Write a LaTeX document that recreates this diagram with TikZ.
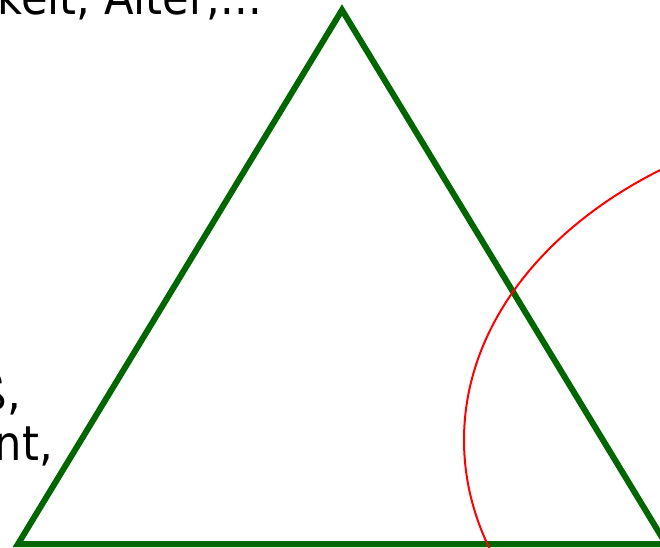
\documentclass[tikz,border=0pt]{standalone}
\usepackage{fontspec}
\setmainfont[FakeStretch=0.9]{DejaVu Sans}
\begin{document}
\begin{tikzpicture}[x=1pt,y=-1pt,
  tri/.style={draw={rgb,255:red,0;green,102;blue,0},line width=6pt,line join=miter},
  ell/.style={draw=red,line width=2pt},
  lbl/.style={font=\fontsize{48}{50}\selectfont,text=black,inner sep=0pt,anchor=base east}]
\useasboundingbox (0,0) rectangle (660,547);
\clip (0,0) rectangle (660,547);
\draw[tri] (342,10) -- (18,544) -- (666,544) -- cycle;
\draw[ell] (922,440) ellipse [x radius=458, y radius=329];
\node[lbl] (t1) at (262,14) {keit, Alter,...};
\node[lbl] (t2) at (21,409) {ß,};
\node[lbl] (t3) at (53,460) {nt,};
\end{tikzpicture}
\end{document}
